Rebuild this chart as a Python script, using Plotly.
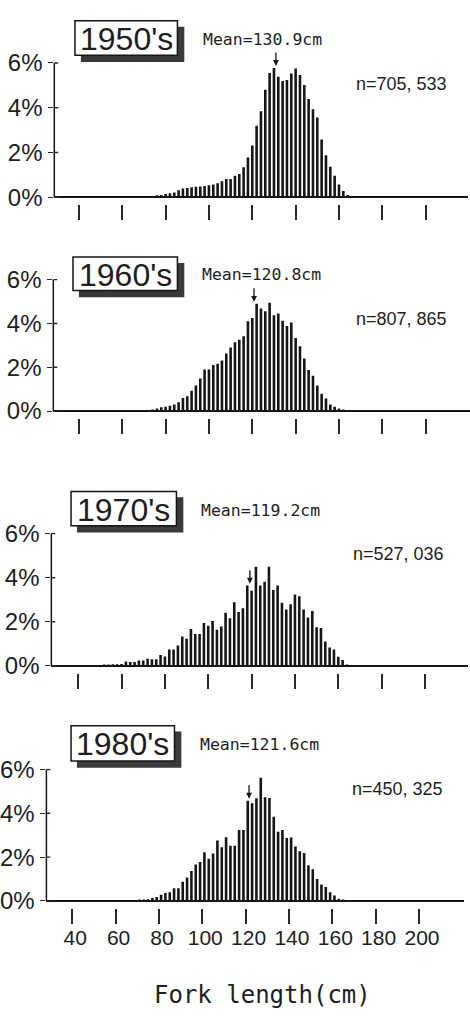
import plotly.graph_objects as go

W, H = 470, 1018

# ---------------- data ----------------
decades = ["1950's", "1960's", "1970's", "1980's"]
means = [130.9, 120.8, 119.2, 121.6]
n_labels = ["n=705, 533", "n=807, 865", "n=527, 036", "n=450, 325"]

bins_1950 = [70, 72, 74, 76, 78, 80, 82, 84, 86, 88, 90, 92, 94, 96, 98, 100, 102, 104, 106, 108,
             110, 112, 114, 116, 118, 120, 122, 124, 126, 128, 130, 132, 134, 136, 138, 140, 142,
             144, 146, 148, 150, 152, 154, 156, 158, 160, 162, 164, 166]
pct_1950 = [0.02, 0.03, 0.06, 0.09, 0.10, 0.15, 0.18, 0.22, 0.31, 0.39, 0.42, 0.45, 0.47, 0.48,
            0.50, 0.54, 0.57, 0.63, 0.72, 0.82, 0.82, 0.96, 1.04, 1.34, 1.78, 2.32, 3.20, 3.85,
            4.80, 5.55, 5.78, 5.39, 5.20, 5.24, 5.53, 5.75, 5.46, 5.02, 4.39, 3.93, 3.56, 2.58,
            1.88, 1.37, 0.96, 0.57, 0.28, 0.10, 0.03]

bins_1960 = [74, 76, 78, 80, 82, 84, 86, 88, 90, 92, 94, 96, 98, 100, 102, 104, 106, 108, 110,
             112, 114, 116, 118, 120, 122, 124, 126, 128, 130, 132, 134, 136, 138, 140, 142, 144,
             146, 148, 150, 152, 154, 156, 158, 160, 162, 164]
pct_1960 = [0.06, 0.12, 0.17, 0.20, 0.24, 0.30, 0.40, 0.60, 0.68, 0.93, 1.16, 1.49, 1.90, 1.90,
            2.10, 2.16, 2.31, 2.63, 2.90, 3.14, 3.25, 3.42, 4.10, 4.25, 4.90, 4.68, 4.56, 4.94,
            4.37, 4.45, 4.12, 3.88, 4.04, 3.33, 2.96, 2.40, 1.87, 1.61, 1.16, 0.79, 0.57, 0.30,
            0.19, 0.12, 0.04, 0.02]

bins_1970 = [52, 54, 56, 58, 60, 62, 64, 66, 68, 70, 72, 74, 76, 78, 80, 82, 84, 86, 88, 90, 92,
             94, 96, 98, 100, 102, 104, 106, 108, 110, 112, 114, 116, 118, 120, 122, 124, 126,
             128, 130, 132, 134, 136, 138, 140, 142, 144, 146, 148, 150, 152, 154, 156, 158, 160,
             162, 164]
pct_1970 = [0.06, 0.06, 0.07, 0.07, 0.09, 0.20, 0.18, 0.18, 0.24, 0.24, 0.33, 0.30, 0.30, 0.49,
            0.43, 0.74, 0.74, 0.93, 1.33, 1.23, 1.67, 1.45, 1.45, 1.94, 1.82, 2.04, 1.64, 1.79,
            2.41, 2.16, 2.89, 2.44, 2.61, 3.64, 3.41, 4.49, 3.64, 3.82, 4.49, 3.44, 3.64, 2.86,
            2.56, 2.79, 3.24, 3.16, 2.56, 2.19, 2.49, 1.75, 1.72, 1.11, 0.83, 0.74, 0.41, 0.27,
            0.04]

bins_1980 = [71, 73, 75, 77, 79, 81, 83, 85, 87, 89, 91, 93, 95, 97, 99, 101, 103, 105, 107, 109,
             111, 113, 115, 117, 119, 121, 123, 125, 127, 129, 131, 133, 135, 137, 139, 141, 143,
             145, 147, 149, 151, 153, 155, 157, 159, 161, 163, 165]
pct_1980 = [0.06, 0.06, 0.08, 0.13, 0.18, 0.28, 0.36, 0.40, 0.58, 0.58, 0.88, 1.07, 1.37, 1.66,
            1.78, 2.22, 1.93, 2.16, 2.76, 2.45, 2.91, 2.52, 2.52, 3.24, 3.24, 4.58, 4.46, 4.69,
            5.63, 4.73, 4.70, 3.84, 3.16, 3.24, 2.87, 2.90, 2.49, 2.27, 2.19, 1.63, 1.45, 1.00,
            0.75, 0.63, 0.40, 0.25, 0.10, 0.03]

x_ticks = [40, 60, 80, 100, 120, 140, 160, 180, 200]
y_ticks = [0, 2, 4, 6]
x_title = "Fork length(cm)"

all_bins = [bins_1950, bins_1960, bins_1970, bins_1980]
all_pct = [pct_1950, pct_1960, pct_1970, pct_1980]

# ---------------- layout geometry (pixels) ----------------
PX_PER_CM = 2.2
panels = [
    dict(axis_x=48, p40=73.0, right=468, p0=188.0, p6=51.0,
         box=(69, 8, 173, 43), mean_xy=(259, 27), n_xy=(352, 72)),
    dict(axis_x=47, p40=73.0, right=470, p0=406.0, p6=272.0,
         box=(67, 249, 173, 283), mean_xy=(258, 267), n_xy=(352, 312)),
    dict(axis_x=45, p40=72.3, right=468, p0=666.0, p6=531.0,
         box=(65, 488, 172, 523), mean_xy=(257, 507), n_xy=(349, 552)),
    dict(axis_x=40, p40=66.2, right=464, p0=905.7, p6=771.7,
         box=(65, 727, 170, 763), mean_xy=(256, 746), n_xy=(348, 792)),
]

INK = "#161616"
TXT = "#1e1e1e"
fig = go.Figure()
shapes = []
annotations = []
layout_axes = {}

def px2paper_x(px):
    return px / W

def px2paper_y(py):
    return 1 - py / H

for i, (bins, pct, P) in enumerate(zip(all_bins, all_pct, panels)):
    s = "" if i == 0 else str(i + 1)
    xa, ya = "x" + s, "y" + s
    scale = (P["p0"] - P["p6"]) / 6.0  # px per %
    gap_px = 7
    ymin = -gap_px / scale
    ymax = 6.05
    ytop_px = P["p6"] - 0.05 * scale
    ybot_px = P["p0"] + gap_px
    xmin = 40 - (P["p40"] - P["axis_x"]) / PX_PER_CM
    xmax = 40 + (P["right"] - P["p40"]) / PX_PER_CM

    fig.add_trace(go.Bar(x=bins, y=pct, xaxis=xa, yaxis=ya, width=1.2,
                         marker=dict(color=INK, line=dict(width=0)),
                         hoverinfo="x+y", showlegend=False))

    layout_axes["xaxis" + s] = dict(
        domain=[px2paper_x(P["axis_x"]), px2paper_x(P["right"])],
        range=[xmin, xmax], anchor=ya, showgrid=False, zeroline=False, showline=False,
        ticks="outside", ticklen=15, tickwidth=1.6, tickcolor="#2a2a2a",
        tickmode="array", tickvals=x_ticks, ticktext=[str(v) for v in x_ticks],
        showticklabels=(i == 3), ticklabelshift=3, ticklabelstandoff=-4,
        tickfont=dict(family="Liberation Sans, Arial, sans-serif", size=21, color=TXT),
        fixedrange=True)
    layout_axes["yaxis" + s] = dict(
        domain=[px2paper_y(ybot_px), px2paper_y(ytop_px)],
        range=[ymin, ymax], anchor=xa, showgrid=False, showline=False,
        zeroline=True, zerolinecolor=INK, zerolinewidth=1.6,
        ticks="outside", ticklen=5, tickwidth=1.4, tickcolor="#2a2a2a",
        tickmode="array", tickvals=y_ticks, ticktext=[f"{v}%" for v in y_ticks],
        tickfont=dict(family="Liberation Sans Narrow, Liberation Sans, Arial, sans-serif",
                      size=24, color=TXT),
        ticklabelstandoff=1, fixedrange=True)

    # vertical y axis line from 0% to 6%
    shapes.append(dict(type="line", xref=xa + " domain", yref=ya, x0=0, x1=0,
                       y0=0, y1=y_ticks[-1], line=dict(color=INK, width=1.5), layer="above"))
    # inner part of the crossing y ticks
    for v in y_ticks:
        shapes.append(dict(type="line", xref=xa + " domain", yref=ya,
                           x0=0, x1=4 / (P["right"] - P["axis_x"]), y0=v, y1=v,
                           line=dict(color="#2a2a2a", width=1.4)))

    # decade label box with shadow
    bx0, by0, bx1, by1 = P["box"]
    shapes.append(dict(type="rect", xref="paper", yref="paper",
                       x0=px2paper_x(bx0 + 6), x1=px2paper_x(bx1 + 7),
                       y0=px2paper_y(by1 + 7), y1=px2paper_y(by0 + 6),
                       fillcolor="#3a3a3a", line=dict(width=0)))
    shapes.append(dict(type="rect", xref="paper", yref="paper",
                       x0=px2paper_x(bx0), x1=px2paper_x(bx1),
                       y0=px2paper_y(by1), y1=px2paper_y(by0),
                       fillcolor="white", line=dict(color=INK, width=1.5)))
    annotations.append(dict(text=decades[i], xref="paper", yref="paper",
                            x=px2paper_x((bx0 + bx1) / 2), y=px2paper_y((by0 + by1) / 2 + 1),
                            xanchor="center", yanchor="middle", showarrow=False,
                            font=dict(family="Liberation Sans, Arial, sans-serif", size=32,
                                      color=TXT)))
    # mean text
    annotations.append(dict(text=f"Mean={means[i]}cm", xref="paper", yref="paper",
                            x=px2paper_x(P["mean_xy"][0]), y=px2paper_y(P["mean_xy"][1]),
                            xanchor="center", yanchor="middle", showarrow=False,
                            font=dict(family="DejaVu Sans Mono, monospace", size=16.5,
                                      color=TXT)))
    # n text
    annotations.append(dict(text=n_labels[i], xref="paper", yref="paper",
                            x=px2paper_x(P["n_xy"][0]), y=px2paper_y(P["n_xy"][1]),
                            xanchor="left", yanchor="middle", showarrow=False,
                            font=dict(family="Liberation Sans, Arial, sans-serif", size=18,
                                      color=TXT)))
    # mean arrow
    near = [v for b, v in zip(bins, pct) if abs(b - means[i]) <= 1.5]
    tip = max(near) + 2 / scale
    annotations.append(dict(text="", x=means[i], y=tip, xref=xa, yref=ya,
                            ax=0, ay=-15, showarrow=True, arrowhead=2, arrowsize=0.9,
                            arrowwidth=1.3, arrowcolor=INK))

# x axis title
annotations.append(dict(text=x_title, xref="paper", yref="paper",
                        x=px2paper_x(259), y=px2paper_y(1002),
                        xanchor="center", yanchor="middle", showarrow=False,
                        font=dict(family="DejaVu Sans Mono, monospace", size=24, color=TXT)))

fig.update_layout(
    width=W, height=H, margin=dict(l=0, r=0, t=0, b=0),
    paper_bgcolor="white", plot_bgcolor="rgba(0,0,0,0)",
    showlegend=False, shapes=shapes, annotations=annotations,
    **layout_axes)

fig.write_html("out.html")
